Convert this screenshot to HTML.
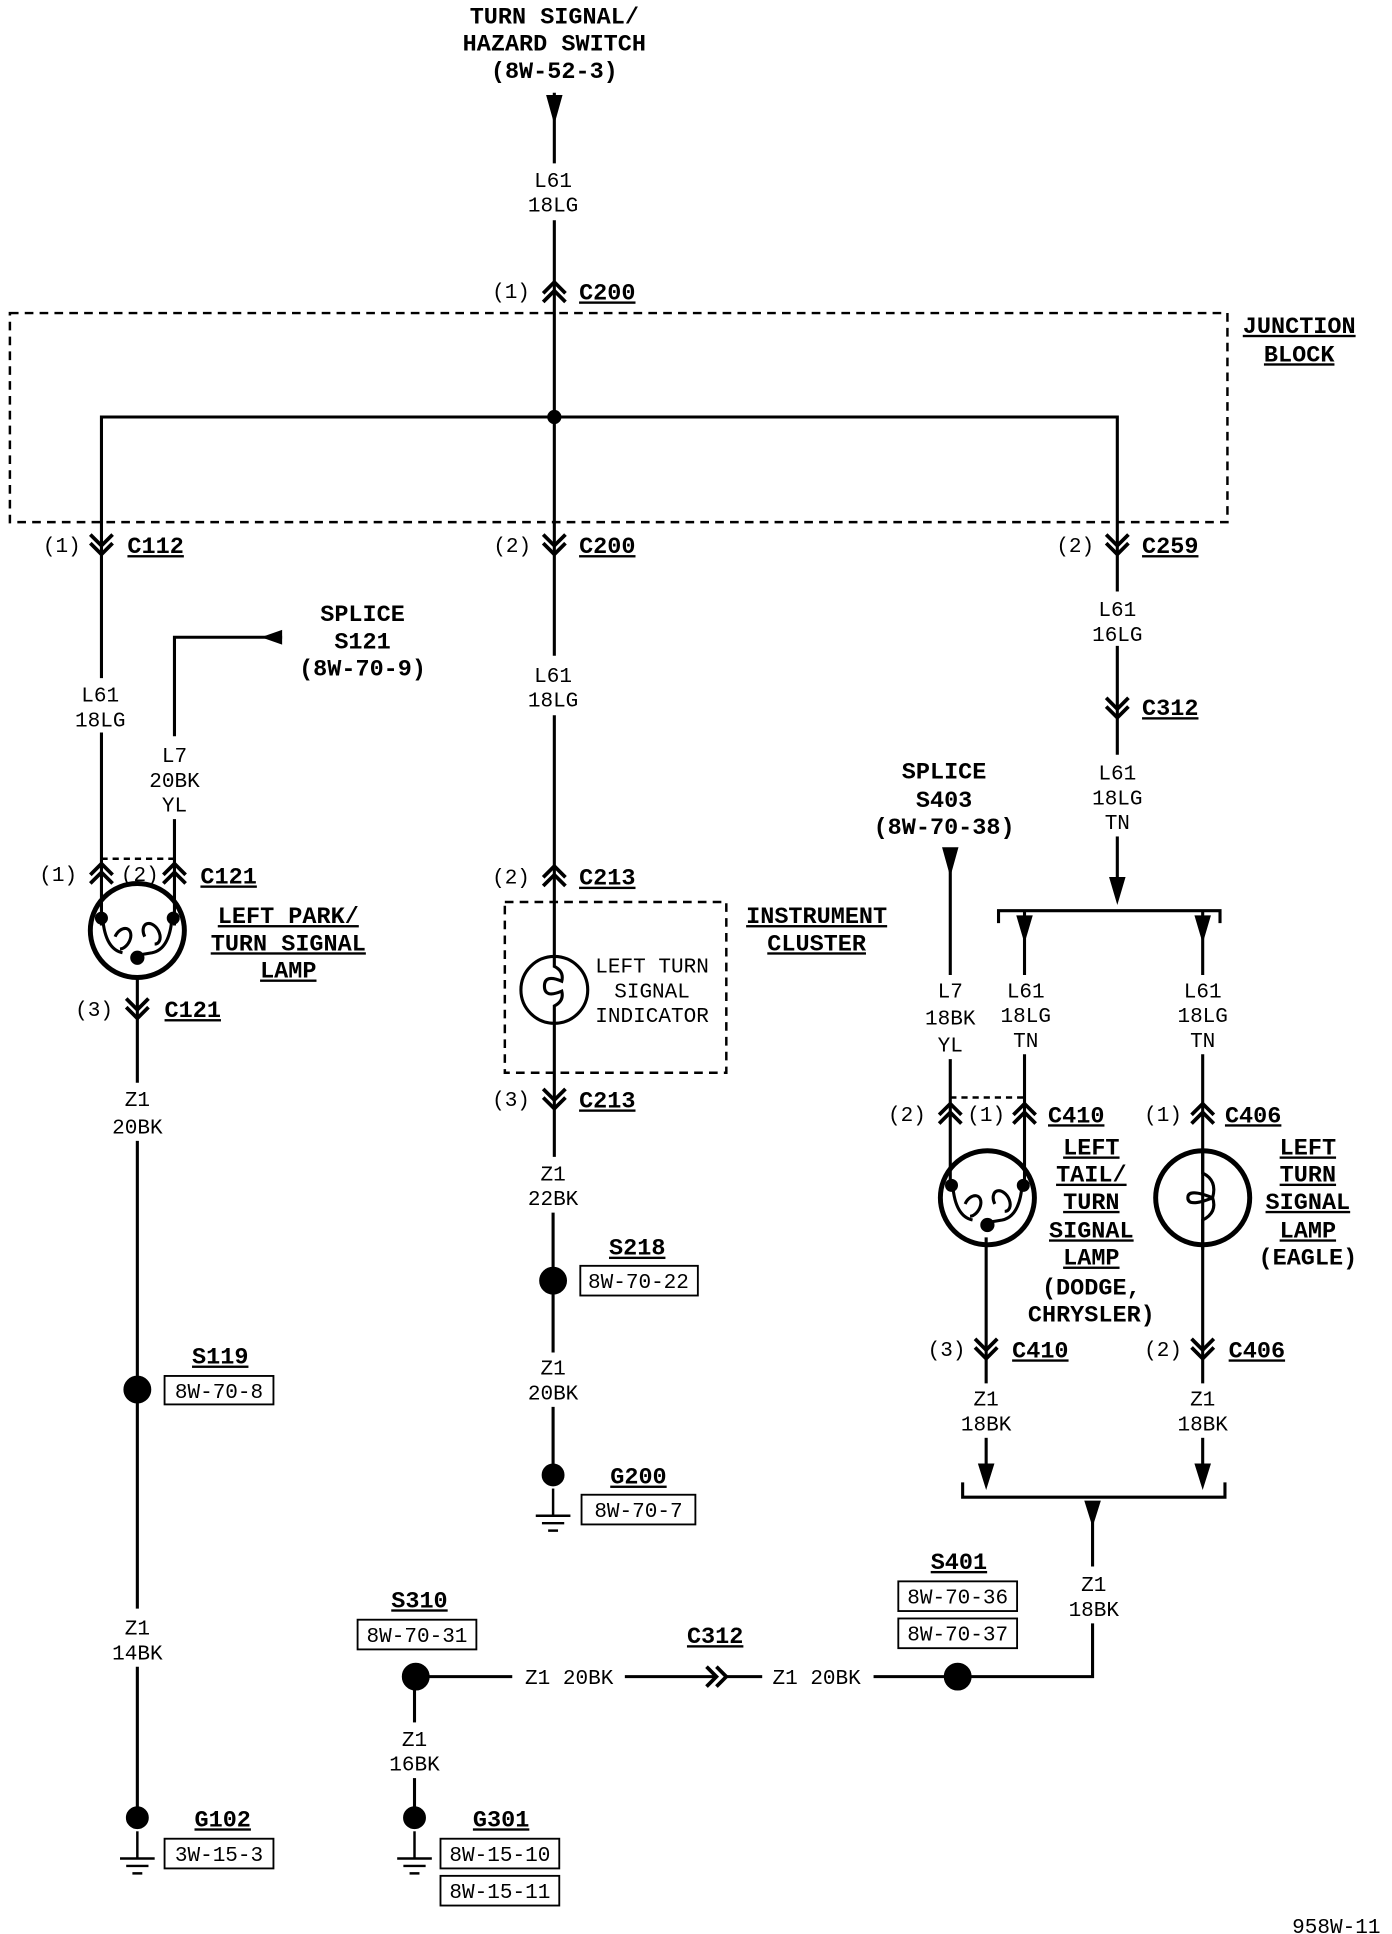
<!DOCTYPE html>
<html><head><meta charset="utf-8"><style>
html,body{margin:0;padding:0;background:#fff;}
svg{display:block;}
.t{font-family:"Liberation Mono",monospace;font-size:17px;fill:#000;text-anchor:middle;}
.b{font-family:"Liberation Mono",monospace;font-size:19px;font-weight:bold;fill:#000;text-anchor:middle;}
.l{text-anchor:start;}
.u{text-decoration:underline;}
</style></head><body>
<svg width="1392" height="1934" viewBox="0 0 1125 1563" preserveAspectRatio="none" xmlns="http://www.w3.org/2000/svg">
<defs>
<g id="up" fill="none" stroke="#000" stroke-width="3"><path d="M-9 1 L0 -8 L9 1 M-9 8 L0 -1 L9 8"/></g>
<g id="dn" fill="none" stroke="#000" stroke-width="3"><path d="M-9 -8 L0 1 L9 -8 M-9 -1 L0 8 L9 -1"/></g>
<g id="gnd" stroke="#000" stroke-width="2"><line x1="0" y1="0" x2="0" y2="22"/><line x1="-14" y1="22" x2="14" y2="22"/><line x1="-9" y1="28" x2="9" y2="28"/><line x1="-4" y1="34" x2="4" y2="34"/></g>
<g id="bulb2" fill="none" stroke="#000" stroke-width="2.5"><circle r="38" stroke-width="4"/><path d="M-28 -10 Q-26 15 -12 18 M-18 5 a6 9 30 1 1 4 10 M6 5 a6 9 -30 1 1 8 6 M28 -10 Q26 15 12 18 L0 20"/><circle cx="-29" cy="-10" r="4" fill="#000"/><circle cx="29" cy="-10" r="4" fill="#000"/><circle cx="0" cy="22" r="4.5" fill="#000"/></g>
</defs>
<g stroke="#000" stroke-width="2.5" fill="none">
<line x1="448" y1="75" x2="448" y2="132"/>
<path d="M443 78 L453 78 L448 96Z" fill="#000"/>
<line x1="448" y1="178" x2="448" y2="530"/>
<rect x="8" y="253" width="984" height="169" stroke-dasharray="7 5" stroke-width="2"/>
<path d="M82 440 V337 H903 V478"/>
<circle cx="448" cy="337" r="4.5" fill="#000"/>
<line x1="82" y1="440" x2="82" y2="548"/>
<line x1="82" y1="592" x2="82" y2="748"/>
<path d="M141 595 V515 H228"/>
<path d="M228 509 L211 515 L228 521Z" fill="#000" stroke="none"/>
<line x1="141" y1="662" x2="141" y2="748"/>
<line x1="82" y1="694" x2="141" y2="694" stroke-dasharray="5 4" stroke-width="2"/>
<line x1="111" y1="790" x2="111" y2="875"/>
<line x1="111" y1="922" x2="111" y2="1300"/>
<line x1="111" y1="1347" x2="111" y2="1470"/>
<circle cx="111" cy="1123" r="10" fill="#000"/>
<circle cx="111" cy="1469" r="8" fill="#000"/>
<line x1="448" y1="578" x2="448" y2="935"/>
<rect x="408" y="729" width="179" height="138" stroke-dasharray="7 5" stroke-width="2"/>
<circle cx="448" cy="800" r="27" fill="#fff"/>
<path d="M448 773 v8 q8 4 6 12 q-14 -6 -14 4 q0 10 14 4 q2 8 -6 12 v14" />
<line x1="447" y1="980" x2="447" y2="1093"/>
<line x1="447" y1="1137" x2="447" y2="1192"/>
<circle cx="447" cy="1035" r="10" fill="#000"/>
<circle cx="447" cy="1192" r="8" fill="#000"/>
<line x1="903" y1="522" x2="903" y2="610"/>
<line x1="903" y1="676" x2="903" y2="712"/>
<path d="M898 710 L908 710 L903 727Z" fill="#000"/>
<path d="M807 746 V736 H986 V746"/>
<line x1="828" y1="736" x2="828" y2="788"/>
<path d="M823 741 L833 741 L828 758Z" fill="#000"/>
<line x1="972" y1="736" x2="972" y2="788"/>
<path d="M967 741 L977 741 L972 758Z" fill="#000"/>
<line x1="768" y1="686" x2="768" y2="788"/>
<path d="M763 686 L773 686 L768 704Z" fill="#000"/>
<line x1="768" y1="856" x2="768" y2="960"/>
<line x1="828" y1="852" x2="828" y2="960"/>
<line x1="768" y1="887" x2="828" y2="887" stroke-dasharray="5 4" stroke-width="2"/>
<line x1="972" y1="852" x2="972" y2="1118"/>
<line x1="797" y1="1000" x2="797" y2="1118"/>
<line x1="797" y1="1162" x2="797" y2="1198"/>
<path d="M792 1184 L802 1184 L797 1200Z" fill="#000"/>
<line x1="972" y1="1162" x2="972" y2="1198"/>
<path d="M967 1184 L977 1184 L972 1200Z" fill="#000"/>
<path d="M778 1198 V1210 H990 V1198"/>
<path d="M878 1214 L888 1214 L883 1230Z" fill="#000"/>
<line x1="883" y1="1230" x2="883" y2="1266"/>
<path d="M883 1312 V1355 H774"/>
<circle cx="774" cy="1355" r="10" fill="#000"/>
<line x1="706" y1="1355" x2="774" y2="1355"/>
<line x1="586" y1="1355" x2="616" y2="1355"/>
<line x1="505" y1="1355" x2="578" y2="1355"/>
<path d="M571 1347 L579 1355 L571 1363 M579 1347 L587 1355 L579 1363" stroke-width="3"/>
<line x1="336" y1="1355" x2="414" y2="1355"/>
<circle cx="336" cy="1355" r="10" fill="#000"/>
<line x1="335" y1="1365" x2="335" y2="1392"/>
<line x1="335" y1="1437" x2="335" y2="1470"/>
<circle cx="335" cy="1469" r="8" fill="#000"/>
<g stroke-width="1.5">
<rect x="133" y="1112" width="88" height="23"/>
<rect x="133" y="1486" width="88" height="24"/>
<rect x="469" y="1023" width="95" height="24"/>
<rect x="470" y="1208" width="92" height="24"/>
<rect x="726" y="1278" width="96" height="24"/>
<rect x="726" y="1308" width="96" height="24"/>
<rect x="289" y="1309" width="96" height="24"/>
<rect x="356" y="1486" width="96" height="24"/>
<rect x="356" y="1516" width="96" height="24"/>
</g>
</g>
<use href="#gnd" x="111" y="1480"/>
<use href="#gnd" x="447" y="1203"/>
<use href="#gnd" x="335" y="1480"/>
<use href="#bulb2" x="111" y="752"/>
<use href="#bulb2" x="798" y="968"/>
<g fill="none" stroke="#000">
<circle cx="972" cy="968" r="38" stroke-width="4"/>
<path d="M972 930 v18 q12 6 8 20 q-20 -8 -20 0 q0 8 20 0 q4 12 -8 18 v24" stroke-width="2.5"/>
</g>
<use href="#up" x="448" y="236"/>
<use href="#dn" x="82" y="440"/>
<use href="#dn" x="448" y="440"/>
<use href="#dn" x="903" y="440"/>
<use href="#up" x="82" y="706"/>
<use href="#up" x="141" y="706"/>
<use href="#dn" x="111" y="815"/>
<use href="#up" x="448" y="708"/>
<use href="#dn" x="448" y="888"/>
<use href="#dn" x="903" y="572"/>
<use href="#up" x="768" y="900"/>
<use href="#up" x="828" y="900"/>
<use href="#up" x="972" y="900"/>
<use href="#dn" x="797" y="1090"/>
<use href="#dn" x="972" y="1090"/>
<text class="b" x="448" y="19">TURN SIGNAL/</text>
<text class="b" x="448" y="41">HAZARD SWITCH</text>
<text class="b" x="448" y="63">(8W-52-3)</text>
<text class="t" x="447" y="151">L61</text><text class="t" x="447" y="171">18LG</text>
<text class="t" x="413" y="241">(1)</text><text class="b l u" x="468" y="242">C200</text>
<text class="b u" x="1050" y="269">JUNCTION</text><text class="b u" x="1050" y="292">BLOCK</text>
<text class="t" x="50" y="446">(1)</text><text class="b l u" x="103" y="447">C112</text>
<text class="t" x="414" y="446">(2)</text><text class="b l u" x="468" y="447">C200</text>
<text class="t" x="869" y="446">(2)</text><text class="b l u" x="923" y="447">C259</text>
<text class="b" x="293" y="502">SPLICE</text><text class="b" x="293" y="524">S121</text><text class="b" x="293" y="546">(8W-70-9)</text>
<text class="t" x="81" y="567">L61</text><text class="t" x="81" y="587">18LG</text>
<text class="t" x="141" y="616">L7</text><text class="t" x="141" y="636">20BK</text><text class="t" x="141" y="656">YL</text>
<text class="t" x="447" y="551">L61</text><text class="t" x="447" y="571">18LG</text>
<text class="t" x="47" y="712">(1)</text><text class="t" x="113" y="712">(2)</text><text class="b l u" x="162" y="714">C121</text>
<text class="b u" x="233" y="746">LEFT PARK/</text><text class="b u" x="233" y="768">TURN SIGNAL</text><text class="b u" x="233" y="790">LAMP</text>
<text class="t" x="76" y="821">(3)</text><text class="b l u" x="133" y="822">C121</text>
<text class="t" x="111" y="894">Z1</text><text class="t" x="111" y="916">20BK</text>
<text class="b u" x="178" y="1102">S119</text><text class="t" x="177" y="1130">8W-70-8</text>
<text class="t" x="111" y="1321">Z1</text><text class="t" x="111" y="1341">14BK</text>
<text class="b u" x="180" y="1476">G102</text><text class="t" x="177" y="1504">3W-15-3</text>
<text class="t" x="413" y="714">(2)</text><text class="b l u" x="468" y="715">C213</text>
<text class="b u" x="660" y="746">INSTRUMENT</text><text class="b u" x="660" y="768">CLUSTER</text>
<text class="t" x="527" y="786">LEFT TURN</text><text class="t" x="527" y="806">SIGNAL</text><text class="t" x="527" y="826">INDICATOR</text>
<text class="t" x="413" y="894">(3)</text><text class="b l u" x="468" y="895">C213</text>
<text class="t" x="447" y="954">Z1</text><text class="t" x="447" y="974">22BK</text>
<text class="b u" x="515" y="1014">S218</text><text class="t" x="516" y="1041">8W-70-22</text>
<text class="t" x="447" y="1111">Z1</text><text class="t" x="447" y="1131">20BK</text>
<text class="b u" x="516" y="1199">G200</text><text class="t" x="516" y="1226">8W-70-7</text>
<text class="t" x="903" y="498">L61</text><text class="t" x="903" y="518">16LG</text>
<text class="b l u" x="923" y="578">C312</text>
<text class="t" x="903" y="630">L61</text><text class="t" x="903" y="650">18LG</text><text class="t" x="903" y="670">TN</text>
<text class="b" x="763" y="629">SPLICE</text><text class="b" x="763" y="652">S403</text><text class="b" x="763" y="674">(8W-70-38)</text>
<text class="t" x="768" y="806">L7</text><text class="t" x="768" y="828">18BK</text><text class="t" x="768" y="850">YL</text>
<text class="t" x="829" y="806">L61</text><text class="t" x="829" y="826">18LG</text><text class="t" x="829" y="846">TN</text>
<text class="t" x="972" y="806">L61</text><text class="t" x="972" y="826">18LG</text><text class="t" x="972" y="846">TN</text>
<text class="t" x="733" y="906">(2)</text><text class="t" x="797" y="906">(1)</text><text class="b l u" x="847" y="907">C410</text>
<text class="t" x="940" y="906">(1)</text><text class="b l u" x="990" y="907">C406</text>
<text class="b u" x="882" y="933">LEFT</text><text class="b u" x="882" y="955">TAIL/</text><text class="b u" x="882" y="977">TURN</text><text class="b u" x="882" y="1000">SIGNAL</text><text class="b u" x="882" y="1022">LAMP</text>
<text class="b" x="882" y="1046">(DODGE,</text><text class="b" x="882" y="1068">CHRYSLER)</text>
<text class="b u" x="1057" y="933">LEFT</text><text class="b u" x="1057" y="955">TURN</text><text class="b u" x="1057" y="977">SIGNAL</text><text class="b u" x="1057" y="1000">LAMP</text><text class="b" x="1057" y="1022">(EAGLE)</text>
<text class="t" x="765" y="1096">(3)</text><text class="b l u" x="818" y="1097">C410</text>
<text class="t" x="940" y="1096">(2)</text><text class="b l u" x="993" y="1097">C406</text>
<text class="t" x="797" y="1136">Z1</text><text class="t" x="797" y="1156">18BK</text>
<text class="t" x="972" y="1136">Z1</text><text class="t" x="972" y="1156">18BK</text>
<text class="t" x="884" y="1286">Z1</text><text class="t" x="884" y="1306">18BK</text>
<text class="b u" x="775" y="1268">S401</text><text class="t" x="774" y="1296">8W-70-36</text><text class="t" x="774" y="1326">8W-70-37</text>
<text class="b u" x="578" y="1328">C312</text>
<text class="t" x="460" y="1361">Z1 20BK</text><text class="t" x="660" y="1361">Z1 20BK</text>
<text class="b u" x="339" y="1299">S310</text><text class="t" x="337" y="1327">8W-70-31</text>
<text class="t" x="335" y="1411">Z1</text><text class="t" x="335" y="1431">16BK</text>
<text class="b u" x="405" y="1476">G301</text><text class="t" x="404" y="1504">8W-15-10</text><text class="t" x="404" y="1534">8W-15-11</text>
<text class="t" x="1080" y="1562">958W-11</text>
</svg>
</body></html>
